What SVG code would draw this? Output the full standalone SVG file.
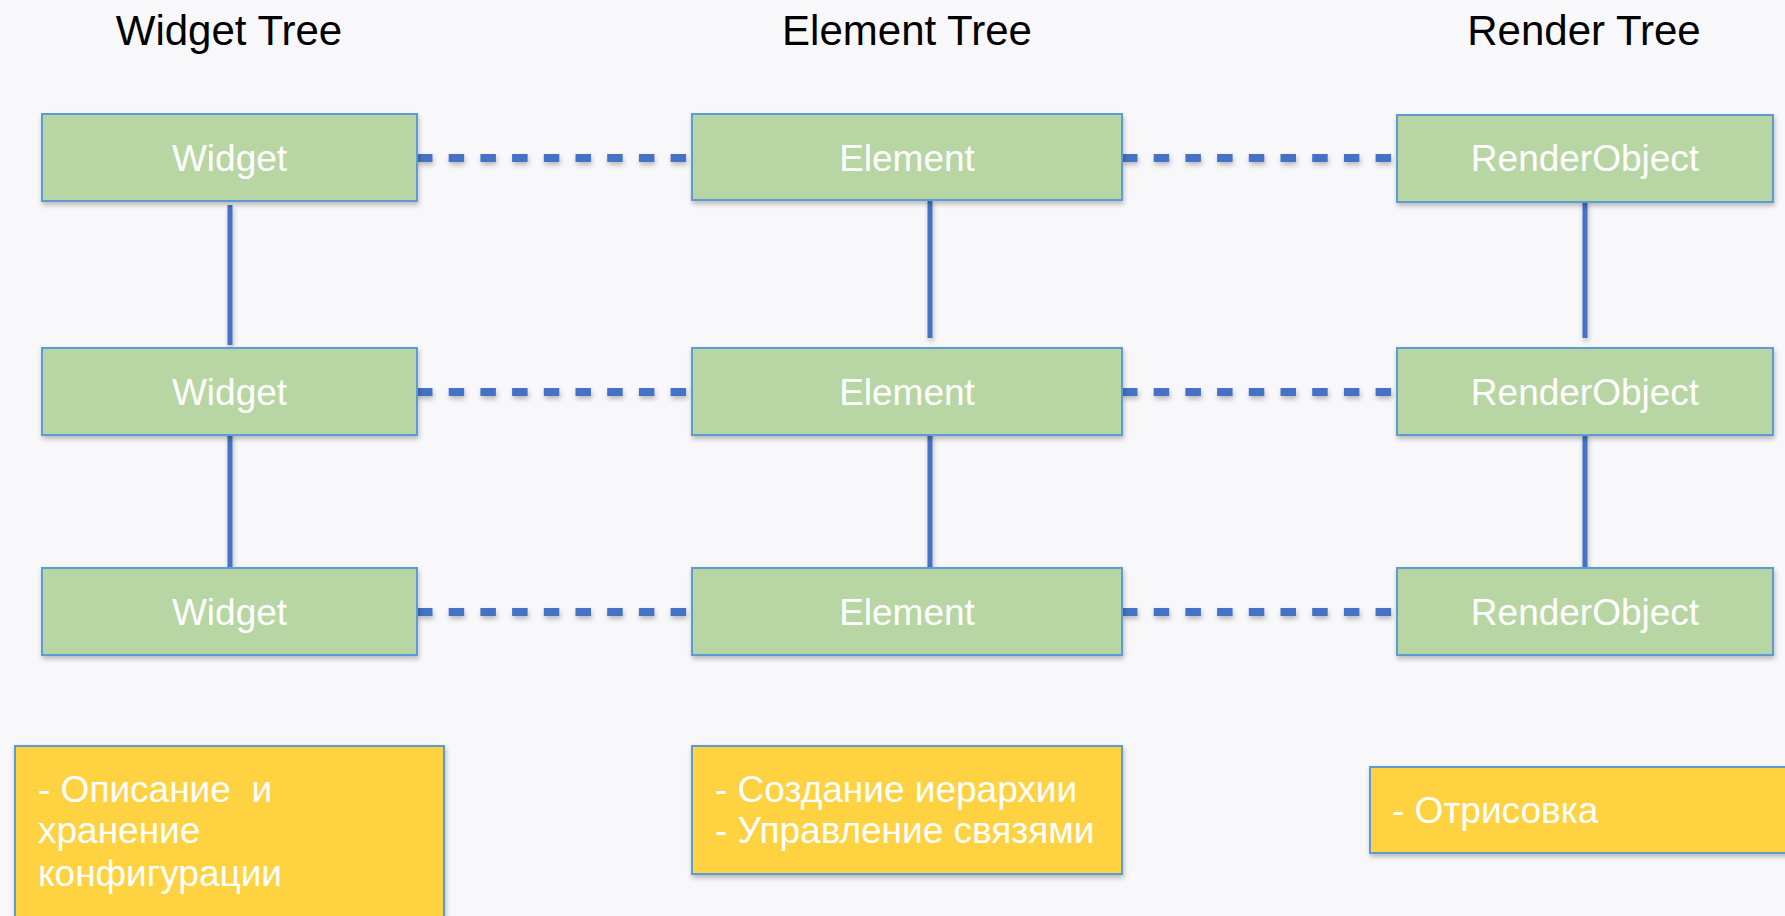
<svg xmlns="http://www.w3.org/2000/svg" width="1785" height="916" viewBox="0 0 1785 916">
<defs>
<filter id="sh" x="-10%" y="-20%" width="120%" height="150%">
<feDropShadow dx="1" dy="3" stdDeviation="2.5" flood-color="#000" flood-opacity="0.25"/>
</filter>
</defs>
<style>
.bg{fill:#F8F8FA}
.node rect{fill:#B8D6A4;stroke:#5B9BD5;stroke-width:2;filter:url(#sh)}
.note rect{fill:#FFD243;stroke:#5B9BD5;stroke-width:2;filter:url(#sh)}
.lbl{font-family:"Liberation Sans",Arial,sans-serif;font-size:37px;fill:#FFFFFF;text-anchor:middle}
.ntxt{font-family:"Liberation Sans",Arial,sans-serif;font-size:37px;fill:#FFFFFF}
.hdr{font-family:"Liberation Sans",Arial,sans-serif;font-size:42px;fill:#000000;text-anchor:middle}
.solid{stroke:#4472C4;stroke-width:5;fill:none}
.dash{stroke:#4472C4;stroke-width:8;fill:none;stroke-dasharray:15.5 16.2}
#connectors{filter:url(#sh)}
</style>
<rect class="bg" x="0" y="0" width="1785" height="916"/>

<g id="headers">
<text class="hdr" x="229" y="45">Widget Tree</text>
<text class="hdr" x="907" y="45">Element Tree</text>
<text class="hdr" x="1584" y="45">Render Tree</text>
</g>

<g id="connectors">
<line class="solid" x1="230" y1="205" x2="230" y2="345"/>
<line class="solid" x1="230" y1="432" x2="230" y2="570"/>
<line class="solid" x1="930" y1="200" x2="930" y2="338"/>
<line class="solid" x1="930" y1="432" x2="930" y2="570"/>
<line class="solid" x1="1585" y1="200" x2="1585" y2="338"/>
<line class="solid" x1="1585" y1="432" x2="1585" y2="570"/>
<line class="dash" x1="417" y1="158" x2="692" y2="158"/>
<line class="dash" x1="417" y1="392" x2="692" y2="392"/>
<line class="dash" x1="417" y1="612" x2="692" y2="612"/>
<line class="dash" x1="1122" y1="158" x2="1397" y2="158"/>
<line class="dash" x1="1122" y1="392" x2="1397" y2="392"/>
<line class="dash" x1="1122" y1="612" x2="1397" y2="612"/>
</g>

<g id="widget1" class="node"><rect x="42" y="114" width="375" height="87"/><text class="lbl" x="229.5" y="171">Widget</text></g>
<g id="widget2" class="node"><rect x="42" y="348" width="375" height="87"/><text class="lbl" x="229.5" y="405">Widget</text></g>
<g id="widget3" class="node"><rect x="42" y="568" width="375" height="87"/><text class="lbl" x="229.5" y="625">Widget</text></g>

<g id="element1" class="node"><rect x="692" y="114" width="430" height="86"/><text class="lbl" x="907" y="171">Element</text></g>
<g id="element2" class="node"><rect x="692" y="348" width="430" height="87"/><text class="lbl" x="907" y="405">Element</text></g>
<g id="element3" class="node"><rect x="692" y="568" width="430" height="87"/><text class="lbl" x="907" y="625">Element</text></g>

<g id="render1" class="node"><rect x="1397" y="115" width="376" height="87"/><text class="lbl" x="1585" y="171">RenderObject</text></g>
<g id="render2" class="node"><rect x="1397" y="348" width="376" height="87"/><text class="lbl" x="1585" y="405">RenderObject</text></g>
<g id="render3" class="node"><rect x="1397" y="568" width="376" height="87"/><text class="lbl" x="1585" y="625">RenderObject</text></g>

<g id="note-widget" class="note"><rect x="15" y="746" width="429" height="190"/>
<text class="ntxt" x="38" y="802" xml:space="preserve">- Описание  и</text>
<text class="ntxt" x="38" y="843">хранение</text>
<text class="ntxt" x="38" y="886">конфигурации</text>
</g>
<g id="note-element" class="note"><rect x="692" y="746" width="430" height="128"/>
<text class="ntxt" x="715" y="802">- Создание иерархии</text>
<text class="ntxt" x="715" y="843">- Управление связями</text>
</g>
<g id="note-render" class="note"><rect x="1370" y="767" width="430" height="86"/>
<text class="ntxt" x="1392" y="823">- Отрисовка</text>
</g>
</svg>
